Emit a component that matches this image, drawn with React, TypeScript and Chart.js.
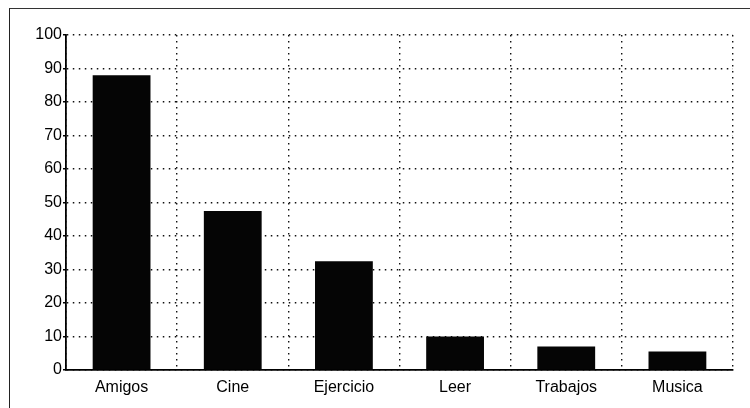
import React, { useEffect, useRef } from "react";
import { Chart, registerables } from "chart.js";

Chart.register(...registerables);

const categories = ["Amigos", "Cine", "Ejercicio", "Leer", "Trabajos", "Musica"];
const values = [88, 47.5, 32.5, 10, 7, 5.5];
const yMin = 0;
const yMax = 100;
const yStep = 10;

export default function App() {
  const ref = useRef<HTMLCanvasElement | null>(null);

  useEffect(() => {
    if (!ref.current) return;
    const chart = new Chart(ref.current, {
      type: "bar",
      data: {
        labels: categories,
        datasets: [
          {
            data: values,
            backgroundColor: "#050505",
            borderWidth: 0,
            categoryPercentage: 1,
            barPercentage: 0.52,
          },
        ],
      },
      options: {
        animation: false,
        responsive: false,
        maintainAspectRatio: false,
        layout: { padding: { left: 0, right: 17, top: 35, bottom: 8 } },
        plugins: { legend: { display: false }, tooltip: { enabled: false } },
        scales: {
          x: {
            grid: {
              display: true,
              color: "#111",
              lineWidth: 1.4,
              drawTicks: false,
              offset: true,
            },
            border: { display: true, color: "#000", width: 1.8, dash: [1.5, 4.5] },
            ticks: {
              color: "#000",
              padding: 8,
              font: { family: "'Liberation Sans', Arial, sans-serif", size: 16 },
            },
            afterFit: (s: any) => {
              s.height = 30;
            },
          },
          y: {
            min: yMin,
            max: yMax,
            ticks: {
              stepSize: yStep,
              color: "#000",
              padding: 1,
              font: { family: "'Liberation Sans', Arial, sans-serif", size: 16 },
            },
            grid: {
              color: "#111",
              lineWidth: 1.4,
              drawTicks: true,
              tickLength: 3,
              tickColor: "#000",
              tickWidth: 1.4,
            },
            border: { display: true, color: "#000", width: 1.8, dash: [1.5, 4.5] },
            afterFit: (s: any) => {
              s.width = 66;
            },
          },
        },
      },
    });
    return () => chart.destroy();
  }, []);

  return (
    <div style={{ position: "fixed", left: 0, top: 0, width: 750, height: 408, background: "#fff" }}>
      <div
        style={{
          position: "absolute",
          left: 9,
          top: 8,
          width: 760,
          height: 420,
          borderTop: "1.5px solid #333",
          borderLeft: "1.5px solid #222",
        }}
      />
      <canvas ref={ref} width={750} height={408} style={{ position: "absolute", left: 0, top: 0 }} />
    </div>
  );
}
